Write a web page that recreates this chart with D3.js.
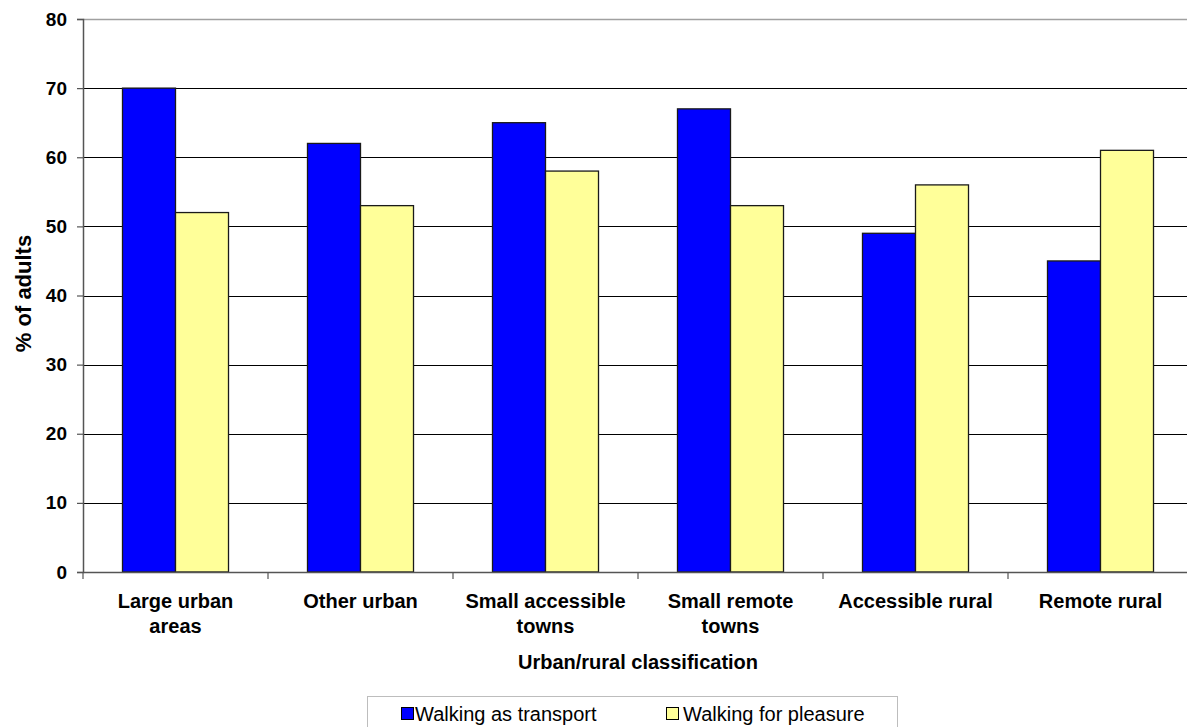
<!DOCTYPE html>
<html>
<head>
<meta charset="utf-8">
<script src="https://cdn.jsdelivr.net/npm/d3@7"></script>
<style>
  html, body { margin: 0; padding: 0; background: #fff; overflow: hidden; }
  svg { display: block; font-family: "Liberation Sans", Arial, sans-serif; }
</style>
</head>
<body>
<svg id="chart" width="1187" height="727"></svg>
<script>
const categories = [
  ["Large urban", "areas"],
  ["Other urban"],
  ["Small accessible", "towns"],
  ["Small remote", "towns"],
  ["Accessible rural"],
  ["Remote rural"]
];
const seriesNames = ["Walking as transport", "Walking for pleasure"];
const transport = [70, 62, 65, 67, 49, 45];
const pleasure = [52, 53, 58, 53, 56, 61];
const yTicks = [0, 10, 20, 30, 40, 50, 60, 70, 80];
const colors = ["#0000FF", "#FFFF99"];

(function () {
const svg = d3.select("#chart");
const pLeft = 83, pRight = 1193, pTop = 19, pBottom = 572;
const catKeys = categories.map(c => c.join(" "));
const values = [transport, pleasure];

const x0 = d3.scaleBand().domain(catKeys).range([pLeft, pRight]).padding(0);
const x1 = d3.scaleBand().domain(seriesNames).range([0, x0.bandwidth()])
  .paddingInner(0).paddingOuter(0.745);
const y = d3.scaleLinear().domain([0, 80]).range([pBottom, pTop]);

// gridlines
svg.append("g").selectAll("line").data(yTicks.filter(t => t > 0)).join("line")
  .attr("x1", pLeft).attr("x2", 1187)
  .attr("y1", d => Math.round(y(d)) + 0.5).attr("y2", d => Math.round(y(d)) + 0.5)
  .attr("stroke", d => d === 80 ? "#a0a0a0" : "#000")
  .attr("stroke-width", d => d === 80 ? 1.5 : 1);

// bars
const groups = svg.append("g").selectAll("g").data(catKeys).join("g")
  .attr("transform", d => `translate(${x0(d)},0)`);
groups.selectAll("rect").data((d, i) => seriesNames.map((s, j) => ({s, v: values[j][i], j})))
  .join("rect")
  .attr("x", d => x1(d.s))
  .attr("y", d => y(d.v))
  .attr("width", x1.bandwidth())
  .attr("height", d => y(0) - y(d.v))
  .attr("fill", d => colors[d.j])
  .attr("stroke", "#1a1a1a")
  .attr("stroke-width", 1.3);

// y axis
const yAxis = d3.axisLeft(y).tickValues(yTicks).tickSize(6).tickPadding(10);
const ya = svg.append("g").attr("transform", `translate(${pLeft},0)`).call(yAxis);
ya.select(".domain").attr("stroke", "#555").attr("stroke-width", 1.5);
ya.selectAll(".tick line").attr("stroke", "#555").attr("stroke-width", 1.2);
ya.selectAll(".tick text").attr("font-size", 19).attr("font-weight", "bold")
  .attr("fill", "#000").attr("font-family", "'Liberation Sans', Arial, sans-serif");

// x axis
const xAxis = d3.axisBottom(x0).tickSize(0).tickFormat("");
const xa = svg.append("g").attr("transform", `translate(0,${pBottom})`).call(xAxis);
xa.select(".domain").attr("stroke", "#555").attr("stroke-width", 1.5);
xa.selectAll(".tick").remove();
const bounds = catKeys.map(k => x0(k)).concat([pRight]);
xa.selectAll("line.bt").data(bounds).join("line").attr("class", "bt")
  .attr("x1", d => d).attr("x2", d => d).attr("y1", 0).attr("y2", 7)
  .attr("stroke", "#555").attr("stroke-width", 1.2);

// category labels
const labs = svg.append("g").selectAll("text").data(categories).join("text")
  .attr("text-anchor", "middle")
  .attr("font-size", 20).attr("font-weight", "bold").attr("fill", "#000")
  .attr("transform", (d, i) => `translate(${x0(catKeys[i]) + x0.bandwidth() / 2},608)`);
labs.selectAll("tspan").data(d => d).join("tspan")
  .attr("x", 0).attr("dy", (d, i) => i === 0 ? 0 : 25).text(d => d);

// axis titles
svg.append("text").attr("x", (pLeft + pRight) / 2).attr("y", 669)
  .attr("text-anchor", "middle").attr("font-size", 20).attr("font-weight", "bold")
  .text("Urban/rural classification");
svg.append("text")
  .attr("transform", `translate(31,${(pTop + pBottom) / 2 - 2}) rotate(-90)`)
  .attr("text-anchor", "middle").attr("font-size", 22).attr("font-weight", "bold")
  .text("% of adults");

// legend
const lg = svg.append("g");
lg.append("rect").attr("x", 367.5).attr("y", 696.5).attr("width", 530).attr("height", 60)
  .attr("fill", "#fff").attr("stroke", "#bdbdbd").attr("stroke-width", 1);
const legX = [401, 666];
const items = lg.selectAll("g.li").data(seriesNames).join("g").attr("class", "li")
  .attr("transform", (d, i) => `translate(${legX[i]},707)`);
items.append("rect").attr("x", 0.5).attr("y", 0.5).attr("width", 12).attr("height", 12)
  .attr("fill", (d, i) => colors[i]).attr("stroke", "#000").attr("stroke-width", 1);
items.append("text").attr("x", (d, i) => i === 0 ? 14 : 17).attr("y", 14)
  .attr("font-size", 20).attr("fill", "#000").text(d => d);
})();
</script>
</body>
</html>
